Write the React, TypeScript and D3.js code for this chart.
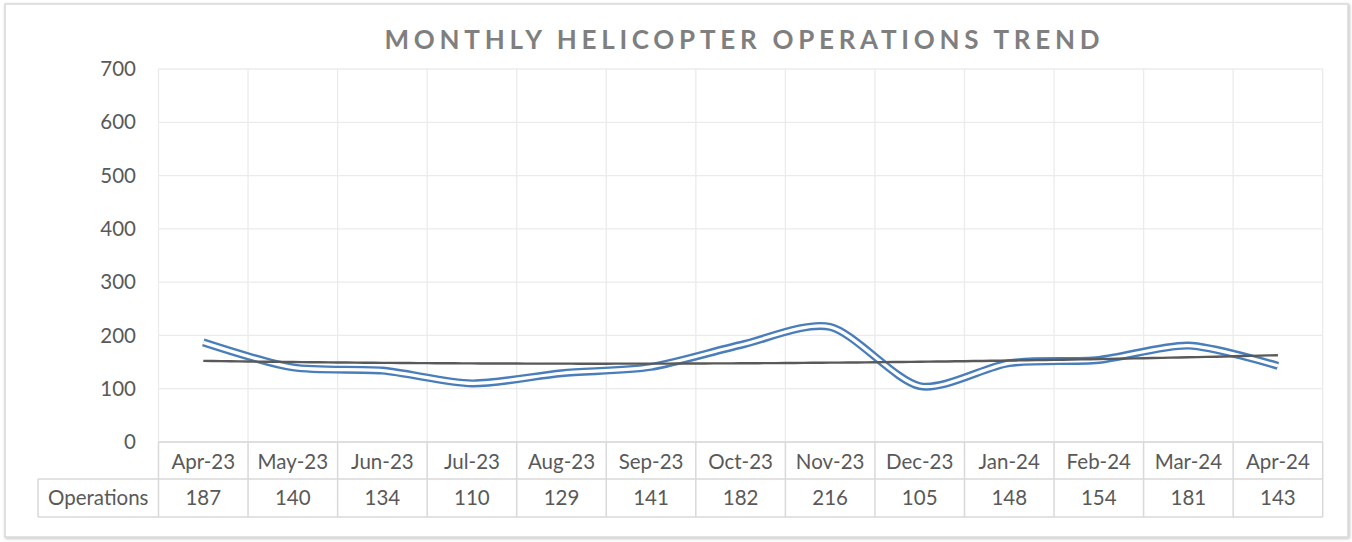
import React from "react";
import * as d3 from "d3";

const categories = ["Apr-23","May-23","Jun-23","Jul-23","Aug-23","Sep-23","Oct-23","Nov-23","Dec-23","Jan-24","Feb-24","Mar-24","Apr-24"];
const operations = [187,140,134,110,129,141,182,216,105,148,154,181,143];
const yTicks = [0,100,200,300,400,500,600,700];
const seriesName = "Operations";
const title = "MONTHLY HELICOPTER OPERATIONS TREND";

const W = 1352, H = 542;
const plotL = 158.5, plotR = 1322.7, plotT = 69, plotB = 442;
const FONT = "Lato, 'Open Sans', sans-serif";
const TXT = "#595959";

// quadratic least-squares fit (polynomial trendline, order 2)
function quadFit(ys: number[]) {
  const xs = ys.map((_, i) => i);
  const S = (k: number) => d3.sum(xs, (x) => x ** k);
  const T = (k: number) => d3.sum(xs.map((x, i) => x ** k * ys[i]));
  const A = [
    [S(0), S(1), S(2), T(0)],
    [S(1), S(2), S(3), T(1)],
    [S(2), S(3), S(4), T(2)],
  ];
  for (let c = 0; c < 3; c++) {
    for (let r = c + 1; r < 3; r++) {
      const f = A[r][c] / A[c][c];
      for (let k = c; k < 4; k++) A[r][k] -= f * A[c][k];
    }
  }
  const b = [0, 0, 0];
  for (let r = 2; r >= 0; r--) {
    let s = A[r][3];
    for (let k = r + 1; k < 3; k++) s -= A[r][k] * b[k];
    b[r] = s / A[r][r];
  }
  return (x: number) => b[0] + b[1] * x + b[2] * x * x;
}

export default function App() {
  const band = d3.scaleBand<string>().domain(categories).range([plotL, plotR]).padding(0);
  const y = d3.scaleLinear().domain([0, 700]).range([plotB, plotT]);
  const cx = (c: string) => (band(c) as number) + band.bandwidth() / 2;

  const pts: [number, number][] = operations.map((v, i) => [cx(categories[i]), y(v)]);
  const line = d3.line().curve(d3.curveCardinal.tension(0.2));
  const path = line(pts) as string;

  const n = operations.length;
  const f = quadFit(operations);
  const xIdx = d3.scaleLinear().domain([0, n - 1]).range([cx(categories[0]), cx(categories[n - 1])]);
  const trendPts: [number, number][] = d3.range(0, n - 1 + 1e-9, 0.1).map((t) => [xIdx(t), y(f(t))]);
  const trendPath = d3.line()(trendPts) as string;

  const row1T = plotB, row1B = 479, row2B = 517;
  const opL = 38;
  const fs = 20.5;

  return (
    <svg width={W} height={H} style={{ position: "absolute", left: 0, top: 0, background: "#fff" }} fontFamily={FONT}>
      <defs>
        <filter id="sh" x="-5%" y="-5%" width="110%" height="110%">
          <feDropShadow dx="1" dy="1" stdDeviation="1.5" floodColor="#000" floodOpacity="0.25" />
        </filter>
      </defs>
      <rect x={5} y={4} width={1343} height={533} fill="#fff" stroke="#d9d9d9" strokeWidth={1.5} filter="url(#sh)" />
      <text x={742} y={49} textAnchor="middle" fontSize={26} fontWeight={700} fill="#7f7f7f" textLength={715} lengthAdjust="spacing">{title}</text>

      {yTicks.map((t) => (
        <line key={t} x1={plotL} x2={plotR} y1={y(t)} y2={y(t)} stroke="#ebebeb" strokeWidth={1.3} />
      ))}
      {categories.map((c) => (
        <line key={c} x1={band(c) as number} x2={band(c) as number} y1={plotT} y2={plotB} stroke="#ebebeb" strokeWidth={1.3} />
      ))}
      <line x1={plotR} x2={plotR} y1={plotT} y2={plotB} stroke="#ebebeb" strokeWidth={1.3} />

      {yTicks.map((t) => (
        <text key={t} x={136} y={y(t)} dy="0.35em" textAnchor="end" fontSize={fs} fill={TXT}>{t}</text>
      ))}

      <g stroke="#d9d9d9" strokeWidth={1.5} fill="none">
        <line x1={plotL} x2={plotR} y1={row1T} y2={row1T} />
        <line x1={opL} x2={plotR} y1={row1B} y2={row1B} />
        <line x1={opL} x2={plotR} y1={row2B} y2={row2B} />
        <line x1={opL} x2={opL} y1={row1B} y2={row2B} />
        {categories.map((c) => (
          <line key={c} x1={band(c) as number} x2={band(c) as number} y1={row1T} y2={row2B} />
        ))}
        <line x1={plotR} x2={plotR} y1={row1T} y2={row2B} />
      </g>
      {categories.map((c) => (
        <text key={c} x={cx(c)} y={(row1T + row1B) / 2 + 1} dy="0.35em" textAnchor="middle" fontSize={fs} fill={TXT}>{c}</text>
      ))}
      {operations.map((v, i) => (
        <text key={i} x={cx(categories[i])} y={(row1B + row2B) / 2} dy="0.35em" textAnchor="middle" fontSize={fs} fill={TXT}>{v}</text>
      ))}
      <text x={(opL + plotL) / 2} y={(row1B + row2B) / 2} dy="0.35em" textAnchor="middle" fontSize={fs} fill={TXT}>{seriesName}</text>

      <path d={path} fill="none" stroke="#4a7ebb" strokeWidth={8} strokeLinejoin="round" />
      <path d={path} fill="none" stroke="#fff" strokeWidth={3.2} strokeLinejoin="round" />

      <path d={trendPath} fill="none" stroke="#595959" strokeWidth={2.4} />
    </svg>
  );
}
